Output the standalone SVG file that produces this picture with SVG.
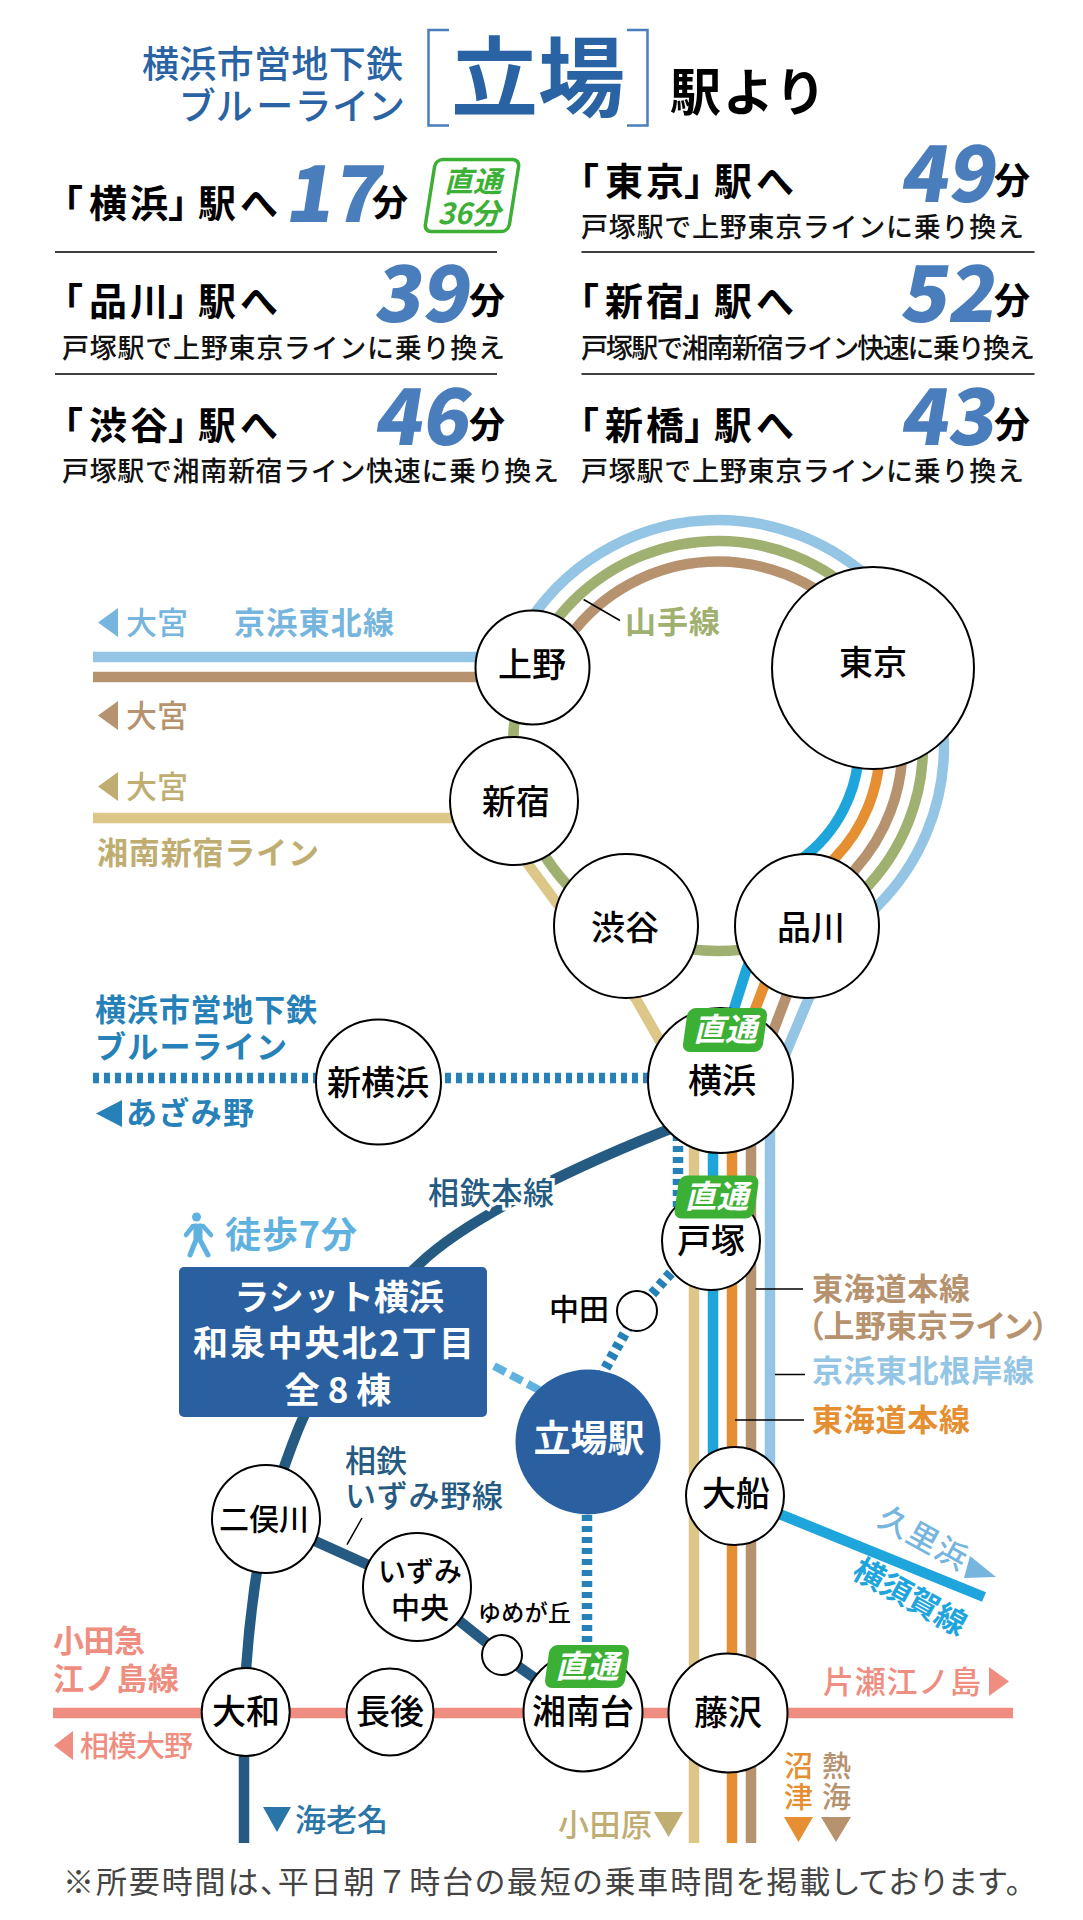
<svg xmlns="http://www.w3.org/2000/svg" width="1083" height="1920" viewBox="0 0 1083 1920">
<style>
text{font-family:"Noto Sans CJK JP","Noto Sans",sans-serif}
.st{fill:#fff;stroke:#000;stroke-width:2}
.sn{font-size:34px;font-weight:500;fill:#000;text-anchor:middle}
.dest{font-size:38px;font-weight:700;fill:#000}
.num{font-size:78px;font-weight:900;fill:#4a7dbb}
.fun{font-size:36px;font-weight:700;fill:#000}
.sub{font-size:27px;font-weight:500;fill:#111}
.rule{stroke:#000;stroke-width:1.5;fill:none}
.ln{fill:none;stroke-width:10.5}
.dot{fill:none;stroke:#2681b8;stroke-width:10.5;stroke-dasharray:6 5}
.lb{font-size:31px;font-weight:500}
.lbb{font-size:31px;font-weight:700}
.bt{font-size:32px;font-weight:700;font-style:italic;fill:#fff;text-anchor:middle}
.bg{fill:#3bb035}
.wt{font-size:35px;font-weight:700;fill:#fff;text-anchor:middle}
</style>
<g id="header">
<text x="403" y="78" font-size="37" font-weight="500" fill="#2a63a3" text-anchor="end" textLength="261">横浜市営地下鉄</text>
<text x="403" y="120" font-size="37" font-weight="500" fill="#2a63a3" text-anchor="end" textLength="222" style="font-feature-settings:'palt'">ブルーライン</text>
<path d="M449 30H428.500V125.500H449M627 30H647.500V125.500H627" fill="none" stroke="#4a7dbb" stroke-width="2.500"/>
<text x="451" y="110" font-size="87" font-weight="700" fill="#2a63a3">立場</text>
<text x="670" y="111" font-size="51" font-weight="700" fill="#000" textLength="156">駅より</text>
</g>
<g id="times">
<text class="dest" x="45 89 130 168 198 240" y="217">「横浜」駅へ</text>
<text class="num" transform="translate(284 222) skewX(-9)">17</text>
<text class="fun" x="372" y="216">分</text>
<g id="badge-direct-36">
<rect x="-42" y="-36" width="84" height="72" rx="7" fill="#fff" stroke="#3bb035" stroke-width="3.500" transform="translate(472 195.500) skewX(-9)"/>
<text x="473" y="192" font-size="29" font-weight="700" font-style="italic" fill="#3bb035" text-anchor="middle">直通</text>
<text x="469" y="224" font-size="29" font-weight="700" font-style="italic" fill="#3bb035" text-anchor="middle">36分</text>
</g>
<path class="rule" d="M55 252H497M581.500 252H1034.500M55 374H497M581.500 374H1034.500"/>
<text class="dest" x="561 605 646 684 714 756" y="195">「東京」駅へ</text>
<text class="num" transform="translate(899 202) skewX(-9)">49</text>
<text class="fun" x="994" y="194">分</text>
<text class="sub" x="581" y="237" textLength="443">戸塚駅で上野東京ラインに乗り換え</text>
<text class="dest" x="45 89 130 168 198 240" y="315">「品川」駅へ</text>
<text class="num" transform="translate(373 322) skewX(-9)">39</text>
<text class="fun" x="469" y="314">分</text>
<text class="sub" x="62" y="358" textLength="443">戸塚駅で上野東京ラインに乗り換え</text>
<text class="dest" x="561 605 646 684 714 756" y="315">「新宿」駅へ</text>
<text class="num" transform="translate(899 322) skewX(-9)">52</text>
<text class="fun" x="994" y="314">分</text>
<text class="sub" x="581" y="358" textLength="454">戸塚駅で湘南新宿ライン快速に乗り換え</text>
<text class="dest" x="45 89 130 168 198 240" y="439">「渋谷」駅へ</text>
<text class="num" transform="translate(373 445) skewX(-9)">46</text>
<text class="fun" x="469" y="438">分</text>
<text class="sub" x="62" y="481" textLength="497">戸塚駅で湘南新宿ライン快速に乗り換え</text>
<text class="dest" x="561 605 646 684 714 756" y="439">「新橋」駅へ</text>
<text class="num" transform="translate(899 445) skewX(-9)">43</text>
<text class="fun" x="994" y="438">分</text>
<text class="sub" x="581" y="481" textLength="443">戸塚駅で上野東京ラインに乗り換え</text>
</g>
<g id="connectors">
<path class="ln" stroke="#ef8d80" d="M53 1713H1013"/>
<path class="ln" stroke="#dcc788" d="M93 818H514L528 864L556 902L636 999L660 1041L694 1090V1843"/>
<circle class="ln" stroke="#a0b070" cx="718" cy="746" r="205"/>
<path class="ln" stroke="#94c5e5" d="M93 657H500M530.800 619.200A226 226 0 0 1 718 520A226 226 0 0 1 944 746A226 226 0 0 1 877.200 906.300C850 940 825 960 808 1000L787 1050L770 1095V1500"/>
<path class="ln" stroke="#b7926f" d="M93 677H500M575.500 628.800A184.500 184.500 0 0 1 718 561.500A184.500 184.500 0 0 1 902.500 746A184.500 184.500 0 0 1 855.700 868.800C825 905 800 955 785 1000L751 1090V1843"/>
<path class="ln" stroke="#e58f32" d="M880 746A162 162 0 0 1 835 858C810 885 780 945 764 986L732 1070V1843"/>
<path class="ln" stroke="#1ea5dc" d="M859 746A141 141 0 0 1 800 860C775 895 755 945 746 971L713 1075V1500L735 1496L984 1597"/>
<path class="ln" stroke="#255a82" d="M680 1125C590 1160 470 1215 419.500 1264C370 1310 325 1365 301.500 1421.600C285 1460 272 1505 266 1519C256 1570 246 1640 244 1712V1843"/>
<path class="ln" stroke="#255a82" d="M266 1519L417 1587L502 1655L583 1712"/>
<path class="dot" d="M93 1078H648"/>
<path class="dot" d="M678 1135V1240"/>
<path class="dot" d="M700 1240L637 1311L588 1400"/>
<path class="dot" d="M587 1515V1650"/>
<path d="M494 1366L541 1391" fill="none" stroke="#5fb1df" stroke-width="8" stroke-dasharray="13 6"/>
<path class="rule" d="M583.600 599.500L620 620.500M755.500 1289H803M775 1374.600H805M735 1420H804M362 1518L347 1544.600"/>
</g>
<g id="labels">
<path d="M118 608V637L98 622.500Z" fill="#76b5dd"/><text class="lb" x="126" y="634" fill="#76b5dd">大宮</text>
<text class="lbb" x="234" y="634" fill="#76b5dd" textLength="160">京浜東北線</text>
<path d="M118 701V730L98 715.500Z" fill="#b7926f"/><text class="lb" x="126" y="727" fill="#b7926f">大宮</text>
<path d="M118 772V801L98 786.500Z" fill="#c0ad72"/><text class="lb" x="126" y="798" fill="#c0ad72">大宮</text>
<text class="lbb" x="97" y="864" fill="#c0ad72" textLength="222">湘南新宿ライン</text>
<text class="lbb" x="625" y="633" fill="#a0b070" textLength="95">山手線</text>
<text class="lbb" x="95" y="1021" fill="#2681b8" textLength="222">横浜市営地下鉄</text>
<text class="lbb" x="95" y="1058" fill="#2681b8" textLength="192">ブルーライン</text>
<path d="M122 1100V1127L96 1113.500Z" fill="#2681b8"/><text class="lbb" x="126" y="1124" fill="#2681b8" textLength="128">あざみ野</text>
<text class="lb" x="428" y="1204" fill="#255a82" stroke="#fff" stroke-width="6" paint-order="stroke" textLength="126">相鉄本線</text>
<g id="walk" fill="none" stroke="#5fb1df" stroke-width="4.500" stroke-linejoin="round" stroke-linecap="round">
<circle cx="196.500" cy="1217" r="4.500" fill="#5fb1df" stroke="none"/>
<path d="M186 1235L193 1226H203L211 1235"/>
<path d="M196 1226V1240L190 1255M200 1226V1240L208 1255" stroke-width="5"/>
</g>
<text x="225" y="1248" font-size="36" font-weight="700" fill="#5fb1df" textLength="132">徒歩7分</text>
<text class="lb" x="345" y="1472" fill="#255a82" textLength="62">相鉄</text>
<text class="lb" x="345" y="1507" fill="#255a82" textLength="158">いずみ野線</text>
<text x="549" y="1320" font-size="30" font-weight="500" fill="#000">中田</text>
<text x="478" y="1621" font-size="23" font-weight="500" fill="#000" textLength="93">ゆめが丘</text>
<text class="lbb" x="812" y="1300" fill="#b7926f" textLength="158">東海道本線</text>
<text class="lbb" x="808" y="1337" fill="#b7926f" textLength="240" style="font-feature-settings:'palt'">（上野東京ライン）</text>
<text class="lbb" x="812" y="1382" fill="#94c5e5" textLength="222">京浜東北根岸線</text>
<text class="lbb" x="812" y="1431" fill="#e58f32" textLength="158">東海道本線</text>
<g transform="translate(923 1538) rotate(29)"><text class="lb" x="-48" y="11" fill="#76b5dd" textLength="96">久里浜</text></g>
<path d="M970 1556L996 1577L964 1578Z" fill="#76b5dd"/>
<g transform="translate(910 1597) rotate(29)"><text class="lbb" x="-62" y="11" fill="#1ea5dc" textLength="124">横須賀線</text></g>
<text class="lbb" x="53" y="1652" fill="#ef8d80" textLength="92">小田急</text>
<text class="lbb" x="53" y="1690" fill="#ef8d80" textLength="126">江ノ島線</text>
<path d="M73 1731V1760L54 1745.500Z" fill="#ef8d80"/><text x="80" y="1757" font-size="29" font-weight="500" fill="#ef8d80" textLength="113">相模大野</text>
<text class="lb" x="823" y="1693" fill="#ef8d80" font-weight="400" textLength="158">片瀬江ノ島</text>
<path d="M989 1667V1696L1009 1681.500Z" fill="#ef8d80"/>
<path d="M263 1807H291L277 1832Z" fill="#2a75a8"/><text class="lb" x="295" y="1831" fill="#2a75a8" textLength="93">海老名</text>
<text class="lb" x="558" y="1836" fill="#c0ad72" textLength="94">小田原</text><path d="M654 1812H683L668.500 1837Z" fill="#c0ad72"/>
<text x="784" y="1777" font-size="29" font-weight="500" fill="#e58f32">沼</text><text x="784" y="1808" font-size="29" font-weight="500" fill="#e58f32">津</text><path d="M784 1817H813L798.500 1842Z" fill="#e58f32"/>
<text x="822" y="1777" font-size="29" font-weight="500" fill="#b7926f">熱</text><text x="822" y="1808" font-size="29" font-weight="500" fill="#b7926f">海</text><path d="M821 1817H851L836 1842Z" fill="#b7926f"/>
<text x="63" y="1893" font-size="31" font-weight="400" fill="#444" textLength="958" style="font-feature-settings:'palt'">※所要時間は、平日朝<tspan style="font-feature-settings:normal">７</tspan>時台の最短の乗車時間を掲載しております。</text>
</g>
<g id="tokyo"><circle class="st" cx="873" cy="668" r="101"/><text class="sn" x="873" y="675">東京</text></g>
<g id="ueno"><circle class="st" cx="532.500" cy="667.500" r="57"/><text class="sn" x="532" y="677">上野</text></g>
<g id="shinjuku"><circle class="st" cx="514" cy="801" r="64"/><text class="sn" x="516" y="814">新宿</text></g>
<g id="shibuya"><circle class="st" cx="626" cy="926" r="72"/><text class="sn" x="625" y="940">渋谷</text></g>
<g id="shinagawa"><circle class="st" cx="807" cy="926" r="72"/><text class="sn" x="811" y="940">品川</text></g>
<g id="shinyokohama"><circle class="st" cx="378.500" cy="1082" r="62.500"/><text class="sn" x="378" y="1095">新横浜</text></g>
<g id="yokohama"><circle class="st" cx="720.500" cy="1080.500" r="72.500"/><text class="sn" x="722" y="1093">横浜</text>
<g transform="translate(725 1030) skewX(-8)"><rect class="bg" x="-40" y="-22" width="80" height="44" rx="8"/></g><text class="bt" x="725" y="1041">直通</text></g>
<g id="totsuka"><circle class="st" cx="711" cy="1241" r="49"/><text class="sn" x="711" y="1253">戸塚</text>
<g transform="translate(716.500 1197) skewX(-8)"><rect class="bg" x="-40" y="-21.500" width="80" height="43" rx="8"/></g><text class="bt" x="716.500" y="1208">直通</text></g>
<g id="nakata"><circle class="st" cx="637" cy="1311" r="20"/></g>
<g id="property"><rect x="179" y="1267" width="308" height="150" rx="5" fill="#2a60a0"/>
<text class="wt" x="339" y="1310">ラシット横浜</text>
<text class="wt" x="333.500" y="1356" textLength="281">和泉中央北2丁目</text>
<text class="wt" x="338" y="1403" xml:space="preserve">全 8 棟</text></g>
<g id="tateba"><circle cx="588" cy="1442" r="72.500" fill="#2a60a0"/><text x="589" y="1452" font-size="37" font-weight="700" fill="#fff" text-anchor="middle">立場駅</text></g>
<g id="ofuna"><circle class="st" cx="735" cy="1496" r="49"/><text class="sn" x="736" y="1506">大船</text></g>
<g id="futamatagawa"><circle class="st" cx="266" cy="1519" r="54"/><text class="sn" x="264" y="1530" style="font-size:30px">二俣川</text></g>
<g id="izumichuo"><circle class="st" cx="417" cy="1587" r="54"/><text class="sn" x="420" y="1582" style="font-size:28px">いずみ</text><text class="sn" x="420" y="1619" style="font-size:29px">中央</text></g>
<g id="yumegaoka"><circle class="st" cx="502" cy="1655" r="20"/></g>
<g id="yamato"><circle class="st" cx="245.700" cy="1712" r="44"/><text class="sn" x="246" y="1724">大和</text></g>
<g id="chogo"><circle class="st" cx="390" cy="1712" r="43.500"/><text class="sn" x="390" y="1724">長後</text></g>
<g id="shonandai"><circle class="st" cx="583" cy="1712" r="59.500"/><text class="sn" x="583" y="1724">湘南台</text>
<g transform="translate(587 1666.500) skewX(-8)"><rect class="bg" x="-40" y="-21.500" width="80" height="43" rx="8"/></g><text class="bt" x="587" y="1678">直通</text></g>
<g id="fujisawa"><circle class="st" cx="728" cy="1713" r="59.500"/><text class="sn" x="728" y="1725">藤沢</text></g>
</svg>
